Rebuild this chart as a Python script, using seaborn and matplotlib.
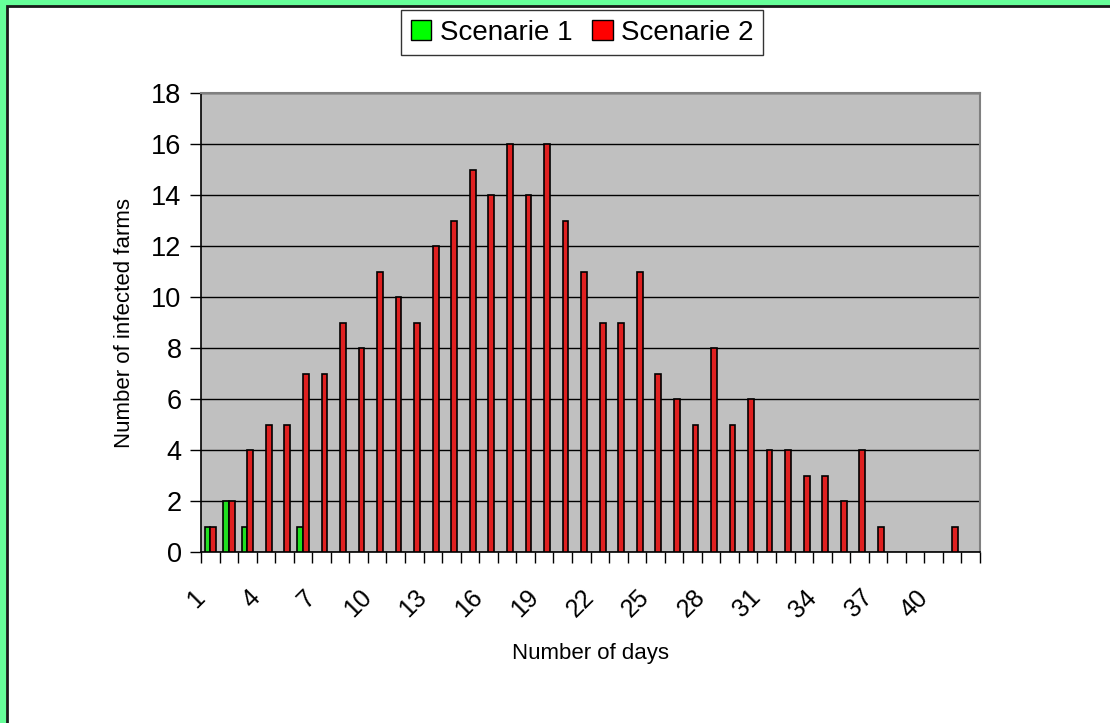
import numpy as np
import pandas as pd
import matplotlib
matplotlib.use("Agg")
import matplotlib.pyplot as plt
import matplotlib.transforms as mtransforms
import seaborn as sns
from matplotlib.patches import Rectangle

# data
days = list(range(1, 43))
scenario1 = {1: 1, 2: 2, 3: 1, 6: 1}
scenario2 = [1, 2, 4, 5, 5, 7, 7, 9, 8, 11, 10, 9, 12, 13, 15, 14, 16, 14, 16, 13,
             11, 9, 9, 11, 7, 6, 5, 8, 5, 6, 4, 4, 3, 3, 2, 4, 1, 0, 0, 0, 1, 0]
series_names = ["Scenarie 1", "Scenarie 2"]
series_colors = ["#00FF00", "#FF0000"]
tick_days = list(range(1, 41, 3))

rows = []
for d in days:
    rows.append({"day": d, "farms": scenario1.get(d, 0), "scenario": series_names[0]})
    rows.append({"day": d, "farms": scenario2[d - 1], "scenario": series_names[1]})
df = pd.DataFrame(rows)
df_plot = df[df["farms"] > 0]

sns.set_style("white")
plt.rcParams["font.family"] = ["Liberation Sans", "DejaVu Sans"]
plt.rcParams["text.color"] = "black"
plt.rcParams["axes.labelcolor"] = "black"
plt.rcParams["xtick.color"] = "black"
plt.rcParams["ytick.color"] = "black"

fig = plt.figure(figsize=(11.1, 7.23), dpi=100)
fig.patch.set_facecolor("#66FF99")
# white card with black edge (frame only visible on left and top)
card = Rectangle((7 / 1110, -0.05), 1.1, 1 - 6 / 723 + 0.05,
                 transform=fig.transFigure, facecolor="white",
                 edgecolor="#1a1a1a", linewidth=2, zorder=-10)
fig.patches.append(card)

ax = fig.add_axes([201 / 1110, 1 - 552 / 723, 779 / 1110, 459 / 723])
sns.barplot(data=df_plot, x="day", y="farms", hue="scenario", order=days,
            hue_order=series_names, palette=series_colors, width=0.62, gap=0,
            edgecolor="black", linewidth=1.2, ax=ax, legend=False, zorder=3)

ax.set_facecolor("#C0C0C0")
ax.set_xlim(-0.5, len(days) - 0.5)
ax.set_ylim(0, 18)
ax.set_yticks(range(0, 19, 2))
ax.yaxis.grid(True, color="black", linewidth=1)
ax.set_axisbelow(True)
ax.tick_params(axis="y", direction="out", length=8, width=1, color="black",
               labelsize=19.5, pad=6, left=True)

# ticks at category borders, labels every third category
ax.set_xticks(np.arange(-0.5, len(days), 1))
ax.set_xticklabels([])
ax.tick_params(axis="x", which="major", direction="out", length=8, width=1,
               color="black", bottom=True)
ax.set_xticks([days.index(d) for d in tick_days], minor=True)
ax.set_xticklabels([str(d) for d in tick_days], minor=True, rotation=45,
                   ha="right", va="top", rotation_mode="anchor", fontsize=18)
ax.tick_params(axis="x", which="minor", length=0, pad=24)
shift = mtransforms.ScaledTranslation(-0.18, 0, fig.dpi_scale_trans)
for lbl in ax.get_xticklabels(minor=True):
    lbl.set_transform(lbl.get_transform() + shift)

for s in ["left", "bottom"]:
    ax.spines[s].set_color("black")
    ax.spines[s].set_linewidth(1.2)
for s in ["top", "right"]:
    ax.spines[s].set_color("#808080")
    ax.spines[s].set_linewidth(1.5)

ax.set_xlabel("Number of days", fontsize=16, labelpad=15)
ax.set_ylabel("Number of infected farms", fontsize=16, labelpad=12)

handles = [Rectangle((0, 0), 1, 1, facecolor=c, edgecolor="black", linewidth=1)
           for c in series_colors]
leg = fig.legend(handles, series_names, loc="upper center", ncol=2,
                 bbox_to_anchor=(582 / 1110, 1 - 10 / 723), fontsize=20,
                 frameon=True, fancybox=False, edgecolor="black",
                 handlelength=0.75, handleheight=0.75, handletextpad=0.3,
                 columnspacing=0.7, borderpad=0.35, borderaxespad=0)
leg.get_frame().set_linewidth(1)

fig.savefig("out.png", dpi=100, facecolor=fig.get_facecolor())
